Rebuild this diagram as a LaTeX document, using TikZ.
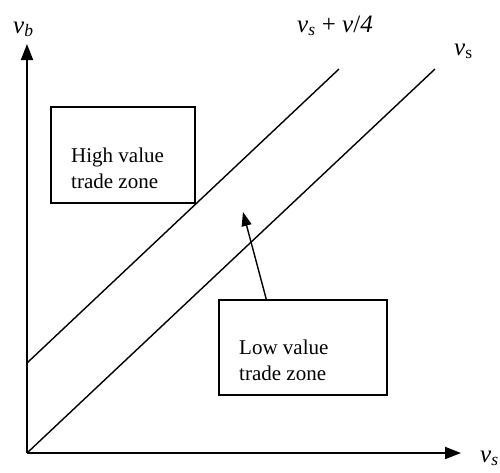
\documentclass[tikz,border=0pt]{standalone}
\usepackage{fontspec}
\setmainfont{Liberation Serif}
\usetikzlibrary{arrows.meta}
\begin{document}
\begin{tikzpicture}[x=1pt,y=-1pt,
  axis/.style={line width=1.8pt,-{Triangle[length=16pt,width=12pt]}},
  diag/.style={line width=1.4pt},
  zonebox/.style={draw,line width=1.4pt,inner sep=0pt},
  zonetext/.style={anchor=base west,align=left,inner sep=0pt,font=\fontsize{21}{26}\selectfont},
  lbl/.style={anchor=base west,font=\fontsize{25}{28}\selectfont,inner sep=0pt},
  ptr/.style={line width=1.4pt,-{Triangle[length=14pt,width=10pt]}}]
\useasboundingbox (0,0) rectangle (500,472);
\coordinate (O) at (27,453);
\coordinate (ytip) at (27,44);
\coordinate (xtip) at (461,453);
\coordinate (a0) at (27,363);
\coordinate (a1) at (339,69);
\coordinate (b1) at (435,69);
\draw[axis] (O) -- (ytip);
\draw[axis] (O) -- (xtip);
\draw[diag] (a0) -- (a1);
\draw[diag] (O) -- (b1);
\node[zonebox,minimum width=144pt,minimum height=96pt] (hbox) at (123,155) {};
\node[zonetext] (htext) at (71,188) {High value\\trade zone};
\node[zonebox,minimum width=168pt,minimum height=95pt] (lbox) at (303,347.5) {};
\node[zonetext] (ltext) at (239,380) {Low value\\trade zone};
\coordinate (pstart) at ([xshift=48pt]lbox.north west);
\coordinate (ptip) at (243,212);
\draw[ptr] (pstart) -- (ptip);
\node[lbl] (vb) at (13,33) {\textit{v\textsubscript{b}}};
\node[lbl] (vsv) at (297,32) {\textit{v\textsubscript{s}} + \textit{v}/\textit{4}};
\node[lbl] (vsr) at (454,55) {\textit{v}\textsubscript{s}};
\node[lbl] (vsx) at (480,462) {\textit{v\textsubscript{s}}};
\end{tikzpicture}
\end{document}
